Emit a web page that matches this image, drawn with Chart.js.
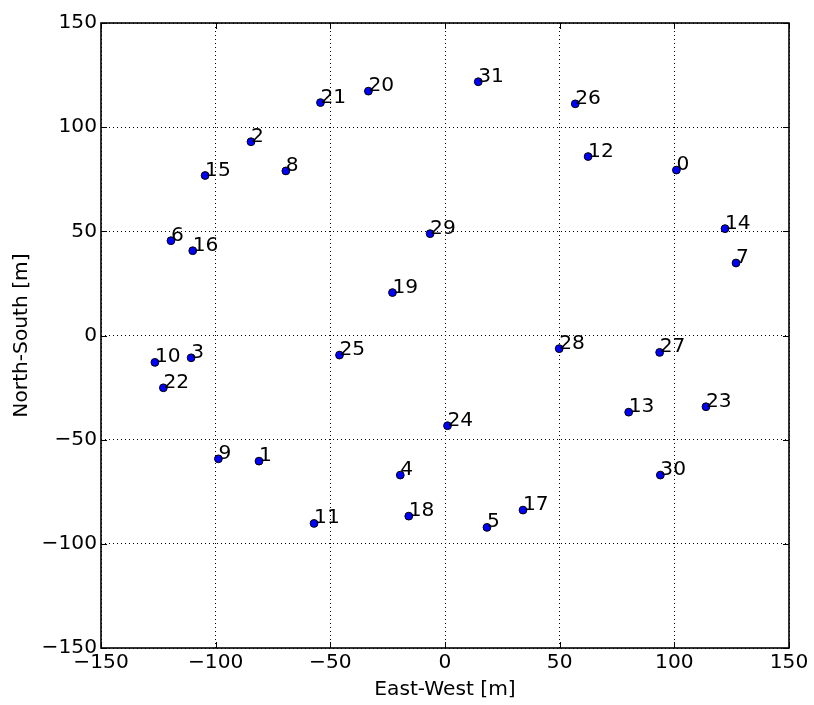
<!DOCTYPE html>
<html>
<head>
<meta charset="utf-8">
<script src="https://cdn.jsdelivr.net/npm/chart.js@4.4.1/dist/chart.umd.min.js"></script>
<style>
  body { margin: 0; background: #fff; }
  #wrap { width: 814px; height: 705px; }
</style>
</head>
<body>
<div id="wrap"><canvas id="layout" width="814" height="705"></canvas></div>
<script>
// antenna stations, positions in metres
var stationIds = [0, 1, 2, 3, 4, 5, 6, 7, 8, 9, 10, 11, 12, 13, 14, 15,
                  16, 17, 18, 19, 20, 21, 22, 23, 24, 25, 26, 27, 28, 29, 30, 31];
var eastWest = [100.9, -81.1, -84.6, -110.7, -19.5, 18.3, -119.5, 126.9, -69.4, -98.8,
                -126.5, -57.1, 62.4, 80.1, 122.1, -104.6, -110.0, 34.0, -15.8, -22.9,
                -33.4, -54.3, -122.8, 113.8, 1.1, -46.0, 56.8, 93.6, 49.8, -6.5, 93.9, 14.5];
var northSouth = [79.4, -60.3, 93.0, -10.7, -67.0, -92.1, 45.5, 34.8, 79.0, -59.2,
                  -12.9, -90.2, 85.9, -36.8, 51.3, 76.8, 40.7, -83.8, -86.7, 20.6,
                  117.3, 111.8, -25.1, -34.2, -43.3, -9.4, 111.2, -8.1, -6.3, 48.9, -67.0, 121.8];

var axisMin = -150, axisMax = 150, axisStep = 50;
var FONT = 'DejaVu Sans';
var FSIZE = 20.2;

Chart.defaults.font.family = FONT;
Chart.defaults.font.size = FSIZE;
Chart.defaults.color = '#000';

var points = stationIds.map(function (id, i) {
    return { x: eastWest[i], y: northSouth[i] };
});

function minusSign(v) {
    return v < 0 ? '\u2212' + Math.abs(v) : String(v);
}

// frame, inward ticks on all four sides and the station numbers
var framePlugin = {
    id: 'frame',
    afterDatasetsDraw: function (chart) {
        var ctx = chart.ctx;
        var a = chart.chartArea;
        var xs = chart.scales.x, ys = chart.scales.y;
        var tl = 6;
        ctx.save();
        ctx.strokeStyle = '#000';
        ctx.lineWidth = 1;
        ctx.beginPath();
        xs.ticks.forEach(function (t) {
            var px = Math.round(xs.getPixelForValue(t.value)) + 0.5;
            ctx.moveTo(px, a.bottom); ctx.lineTo(px, a.bottom - tl);
            ctx.moveTo(px, a.top); ctx.lineTo(px, a.top + tl);
        });
        ys.ticks.forEach(function (t) {
            var py = Math.round(ys.getPixelForValue(t.value)) + 0.5;
            ctx.moveTo(a.left, py); ctx.lineTo(a.left + tl, py);
            ctx.moveTo(a.right, py); ctx.lineTo(a.right - tl, py);
        });
        ctx.stroke();
        ctx.lineWidth = 1.6;
        ctx.strokeRect(a.left, a.top, a.right - a.left, a.bottom - a.top);

        ctx.fillStyle = '#000';
        ctx.font = FSIZE + 'px "' + FONT + '"';
        ctx.textAlign = 'left';
        ctx.textBaseline = 'alphabetic';
        var meta = chart.getDatasetMeta(0);
        meta.data.forEach(function (el, i) {
            ctx.fillText(String(stationIds[i]), el.x, el.y);
        });
        ctx.restore();
    }
};

var ctx = document.getElementById('layout').getContext('2d');

var layoutChart = new Chart(ctx, {
    type: 'scatter',
    data: {
        datasets: [{
            label: 'stations',
            data: points,
            backgroundColor: '#0000ff',
            borderColor: '#000',
            borderWidth: 1,
            pointRadius: 3.9,
            pointHoverRadius: 3.9
        }]
    },
    options: {
        responsive: false,
        animation: false,
        events: [],
        layout: { padding: { left: 0, top: 23, right: 25, bottom: 0 } },
        plugins: {
            legend: { display: false },
            tooltip: { enabled: false }
        },
        scales: {
            x: {
                type: 'linear',
                min: axisMin,
                max: axisMax,
                afterFit: function (s) { s.height = 57; },
                ticks: { stepSize: axisStep, padding: 3, maxRotation: 0, callback: minusSign },
                grid: { color: '#000', lineWidth: 1, drawTicks: false },
                border: { display: false, dash: [1, 3] },
                title: { display: true, text: 'East-West [m]', padding: { top: 0, bottom: 3 } }
            },
            y: {
                type: 'linear',
                min: axisMin,
                max: axisMax,
                afterFit: function (s) { s.width = 101; },
                ticks: { stepSize: axisStep, padding: 4, callback: minusSign },
                grid: { color: '#000', lineWidth: 1, drawTicks: false },
                border: { display: false, dash: [1, 3] },
                title: { display: true, text: 'North-South [m]', padding: { top: 10, bottom: 0 } }
            }
        }
    },
    plugins: [framePlugin]
});
</script>
</body>
</html>
